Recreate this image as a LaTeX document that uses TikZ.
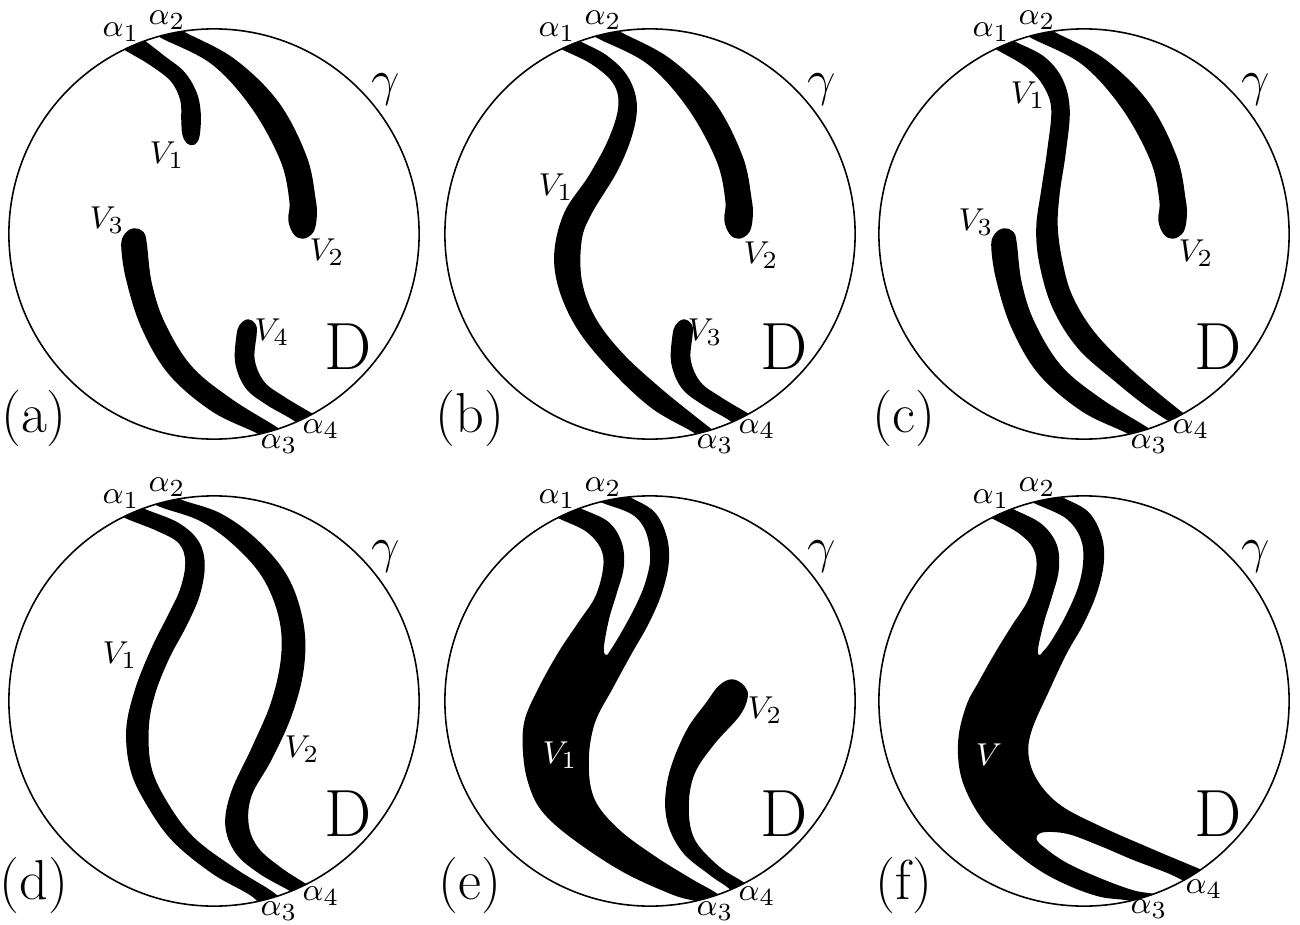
\documentclass[tikz,border=0pt]{standalone}
\usepackage{fontspec}

% repeated strands, local pixel units (y down), centre of disc at (0,0)
\newcommand{\stubone}{%
  \path[ink] plot[smooth, tension=0.6] coordinates {(-100,-193) (-86,-184) (-64,-171) (-42,-154) (-32,-134) (-31,-114) (-30,-100) (-26,-92) (-20,-91) (-16,-99) (-15,-121) (-19,-141) (-31,-161) (-51,-177) (-69,-191) (-82,-200)} -- cycle;}
\newcommand{\tailtwo}{%
  \path[ink] plot[smooth, tension=0.6] coordinates {(-68,-207) (-51,-197) (-1,-171) (39,-127) (68,-74) (77,-34) (76,-14) (81,-1) (89,3) (98,-3) (101,-17) (100,-34) (91,-77) (63,-131) (19,-174) (-31,-201) (-45,-212)} -- cycle;}
\newcommand{\tailthree}{%
  \path[ink] plot[smooth, tension=0.6] coordinates {(62,213) (46,199) (-1,176) (-44,139) (-71,93) (-86,46) (-91,13) (-88,1) (-80,-4) (-72,-1) (-69,9) (-64,49) (-51,89) (-24,133) (16,166) (61,194) (76,205)} -- cycle;}
\newcommand{\hookfour}{%
  \path[ink] plot[smooth, tension=0.6] coordinates {(95,196) (79,184) (53,169) (33,153) (23,129) (24,103) (27,92) (34,87) (40,91) (41,99) (39,126) (49,149) (69,164) (94,179) (108,187)} -- cycle;}

\begin{document}
\begin{tikzpicture}[x=0.01cm, y=-0.01cm,
    rim/.style={line width=0.45pt},
    ink/.style={fill=black, draw=black, line width=0.035cm, line join=round},
    greek/.style={font=\fontsize{9.5}{10}\selectfont, inner sep=0pt},
    vlab/.style={font=\fontsize{9.5}{10}\selectfont, inner sep=0pt},
    curve/.style={font=\fontsize{14}{14}\selectfont, inner sep=0pt},
    dom/.style={font=\fontsize{19}{20}\selectfont, inner sep=0pt},
    tag/.style={font=\fontsize{16}{16}\selectfont, inner sep=0pt}]
  \useasboundingbox (0,0) rectangle (1300,924);

  % (a)
  \begin{scope}[shift={(214,234)}]
    \begin{scope}
      \clip (0,0) circle[radius=2.05cm];
      \stubone \tailtwo \tailthree \hookfour
    \end{scope}
    \draw[rim] (0,0) circle[radius=2.05cm];
    \node[greek] (a-al1) at (-93,-202) {$\alpha_1$};
    \node[greek] (a-al2) at (-47,-214) {$\alpha_2$};
    \node[greek] (a-al3) at (65,210) {$\alpha_3$};
    \node[greek] (a-al4) at (107,195) {$\alpha_4$};
    \node[curve] (a-gam) at (172,-144) {$\gamma$};
    \node[vlab] (a-v1) at (-47,-79) {$V_1$};
    \node[vlab] (a-v2) at (113,18) {$V_2$};
    \node[vlab] (a-v3) at (-107,-14) {$V_3$};
    \node[vlab] (a-v4) at (58,98) {$V_4$};
    \node[dom] (a-dom) at (134,113) {D};
    \node[tag] (a-tag) at (-180,184) {(a)};
  \end{scope}

  % (b)
  \begin{scope}[shift={(650,234)}]
    \begin{scope}
      \clip (0,0) circle[radius=2.05cm];
      \path[ink] plot[smooth, tension=0.6] coordinates {(-103,-195) (-87,-186) (-57,-171) (-35,-151) (-30,-127) (-40,-94) (-60,-57) (-84,-21) (-94,19) (-89,56) (-70,96) (-37,136) (3,173) (46,198) (62,212)}
        -- plot[smooth, tension=0.6] coordinates {(72,205) (56,193) (10,156) (-30,119) (-57,83) (-70,46) (-70,6) (-60,-21) (-34,-64) (-19,-101) (-15,-131) (-24,-157) (-44,-177) (-70,-191) (-85,-201)} -- cycle;
      \tailtwo \hookfour
    \end{scope}
    \draw[rim] (0,0) circle[radius=2.05cm];
    \node[greek] (b-al1) at (-93,-202) {$\alpha_1$};
    \node[greek] (b-al2) at (-47,-214) {$\alpha_2$};
    \node[greek] (b-al3) at (65,210) {$\alpha_3$};
    \node[greek] (b-al4) at (107,195) {$\alpha_4$};
    \node[curve] (b-gam) at (172,-144) {$\gamma$};
    \node[vlab] (b-v1) at (-94,-47) {$V_1$};
    \node[vlab] (b-v2) at (111,21) {$V_2$};
    \node[vlab] (b-v3) at (55,98) {$V_3$};
    \node[dom] (b-dom) at (134,113) {D};
    \node[tag] (b-tag) at (-180,184) {(b)};
  \end{scope}

  % (c)
  \begin{scope}[shift={(1084,234)}]
    \begin{scope}
      \clip (0,0) circle[radius=2.05cm];
      \path[ink] plot[smooth, tension=0.6] coordinates {(-100,-193) (-85,-185) (-55,-167) (-38,-147) (-31,-124) (-35,-84) (-41,-44) (-46,-7) (-43,29) (-30,73) (-5,113) (32,146) (62,170) (86,186) (102,196)}
        -- plot[smooth, tension=0.6] coordinates {(112,188) (95,178) (45,136) (9,99) (-13,63) (-23,29) (-28,-7) (-26,-41) (-20,-81) (-16,-124) (-23,-154) (-41,-176) (-70,-191) (-84,-199)} -- cycle;
      \tailtwo \tailthree
    \end{scope}
    \draw[rim] (0,0) circle[radius=2.05cm];
    \node[greek] (c-al1) at (-93,-202) {$\alpha_1$};
    \node[greek] (c-al2) at (-47,-214) {$\alpha_2$};
    \node[greek] (c-al3) at (65,210) {$\alpha_3$};
    \node[greek] (c-al4) at (107,195) {$\alpha_4$};
    \node[curve] (c-gam) at (172,-144) {$\gamma$};
    \node[vlab] (c-v1) at (-56,-139) {$V_1$};
    \node[vlab] (c-v2) at (112,19) {$V_2$};
    \node[vlab] (c-v3) at (-108,-12) {$V_3$};
    \node[dom] (c-dom) at (134,113) {D};
    \node[tag] (c-tag) at (-180,184) {(c)};
  \end{scope}

  % (d)
  \begin{scope}[shift={(214,701)}]
    \begin{scope}
      \clip (0,0) circle[radius=2.05cm];
      \path[ink] plot[smooth, tension=0.6] coordinates {(-101,-192) (-87,-184) (-57,-172) (-34,-159) (-27,-139) (-32,-112) (-44,-86) (-61,-52) (-77,-12) (-86,28) (-82,68) (-67,101) (-41,138) (-1,171) (39,194) (52,210)}
        -- plot[smooth, tension=0.6] coordinates {(70,203) (56,191) (19,168) (-21,138) (-47,104) (-64,68) (-67,28) (-61,-6) (-47,-42) (-29,-76) (-16,-106) (-11,-136) (-17,-159) (-37,-177) (-71,-191) (-84,-200)} -- cycle;
      \path[ink] plot[smooth, tension=0.6] coordinates {(-68,-205) (-54,-196) (-14,-182) (19,-159) (49,-126) (66,-86) (69,-46) (59,1) (39,48) (19,91) (13,124) (23,151) (46,171) (76,188) (92,198)}
        -- plot[smooth, tension=0.6] coordinates {(104,192) (89,183) (66,168) (43,148) (33,124) (36,94) (56,58) (76,14) (88,-32) (88,-76) (73,-122) (43,-159) (6,-186) (-34,-200) (-48,-210)} -- cycle;
    \end{scope}
    \draw[rim] (0,0) circle[radius=2.05cm];
    \node[greek] (d-al1) at (-93,-202) {$\alpha_1$};
    \node[greek] (d-al2) at (-47,-214) {$\alpha_2$};
    \node[greek] (d-al3) at (65,210) {$\alpha_3$};
    \node[greek] (d-al4) at (107,195) {$\alpha_4$};
    \node[curve] (d-gam) at (172,-144) {$\gamma$};
    \node[vlab] (d-v1) at (-94,-46) {$V_1$};
    \node[vlab] (d-v2) at (88,48) {$V_2$};
    \node[dom] (d-dom) at (134,113) {D};
    \node[tag] (d-tag) at (-180,184) {(d)};
  \end{scope}

  % (e)
  \begin{scope}[shift={(650,701)}]
    \begin{scope}
      \clip (0,0) circle[radius=2.05cm];
      \path[ink] plot[smooth, tension=0.6] coordinates {(-103,-190) (-88,-183) (-63,-171) (-48,-154) (-45,-134) (-53,-104) (-70,-78) (-90,-48) (-110,-12) (-124,21) (-125,55) (-119,85) (-106,110) (-77,136) (-27,169) (23,192) (50,200) (65,212)}
        -- plot[smooth, tension=0.6] coordinates {(78,203) (63,192) (40,179) (3,156) (-33,129) (-57,99) (-63,62) (-57,22) (-38,-15) (-20,-48) (-3,-78) (10,-108) (17,-138) (15,-164) (3,-188) (-22,-203) (-36,-212)}
        -- plot[smooth, tension=0.6] coordinates {(-60,-205) (-45,-199) (-17,-188) (-3,-171) (2,-144) (-3,-118) (-13,-94) (-27,-68) (-38,-50) (-43,-44) (-48,-51) (-43,-81) (-35,-108) (-28,-134) (-30,-158) (-43,-178) (-70,-191) (-84,-198)} -- cycle;
      \path[ink] plot[smooth, tension=0.6] coordinates {(92,198) (80,186) (60,172) (33,149) (18,116) (20,76) (37,32) (58,2) (70,-14) (82,-20) (93,-14) (96,-4) (88,14) (63,42) (43,72) (37,106) (43,139) (67,166) (90,181) (104,190)} -- cycle;
    \end{scope}
    \draw[rim] (0,0) circle[radius=2.05cm];
    \node[greek] (e-al1) at (-93,-202) {$\alpha_1$};
    \node[greek] (e-al2) at (-47,-214) {$\alpha_2$};
    \node[greek] (e-al3) at (65,210) {$\alpha_3$};
    \node[greek] (e-al4) at (107,195) {$\alpha_4$};
    \node[curve] (e-gam) at (172,-144) {$\gamma$};
    \node[vlab, text=white] (e-v1) at (-90,54) {$V_1$};
    \node[vlab] (e-v2) at (115,9) {$V_2$};
    \node[dom] (e-dom) at (134,113) {D};
    \node[tag] (e-tag) at (-180,184) {(e)};
  \end{scope}

  % (f)
  \begin{scope}[shift={(1084,701)}]
    \begin{scope}
      \clip (0,0) circle[radius=2.05cm];
      \path[ink] plot[smooth, tension=0.6] coordinates {(-104,-190) (-89,-183) (-64,-169) (-49,-153) (-46,-131) (-54,-101) (-71,-74) (-87,-48) (-104,-18) (-116,5) (-124,39) (-121,76) (-104,112) (-80,139) (-48,165) (-17,182) (16,194) (49,199) (62,212)}
        -- plot[smooth, tension=0.6] coordinates {(88,202) (71,195) (49,191) (16,179) (-17,164) (-38,150) (-49,139) (-43,130) (-17,131) (16,143) (49,157) (83,170) (98,177) (112,184)}
        -- plot[smooth, tension=0.6] coordinates {(130,176) (116,170) (66,149) (16,127) (-24,106) (-47,82) (-57,56) (-54,29) (-36,-12) (-19,-48) (-2,-78) (11,-108) (18,-138) (16,-164) (3,-188) (-22,-202) (-36,-211)}
        -- plot[smooth, tension=0.6] coordinates {(-61,-204) (-46,-198) (-17,-184) (-2,-164) (1,-141) (-4,-114) (-17,-84) (-32,-58) (-40,-48) (-44,-44) (-48,-50) (-42,-78) (-34,-104) (-27,-131) (-29,-156) (-44,-176) (-71,-190) (-85,-197)} -- cycle;
    \end{scope}
    \draw[rim] (0,0) circle[radius=2.05cm];
    \node[greek] (f-al1) at (-93,-202) {$\alpha_1$};
    \node[greek] (f-al2) at (-47,-214) {$\alpha_2$};
    \node[greek] (f-al3) at (65,208) {$\alpha_3$};
    \node[greek] (f-al4) at (120,188) {$\alpha_4$};
    \node[curve] (f-gam) at (172,-144) {$\gamma$};
    \node[vlab, text=white] (f-v) at (-95,54) {$V$};
    \node[dom] (f-dom) at (134,113) {D};
    \node[tag] (f-tag) at (-180,184) {(f)};
  \end{scope}
\end{tikzpicture}
\end{document}
